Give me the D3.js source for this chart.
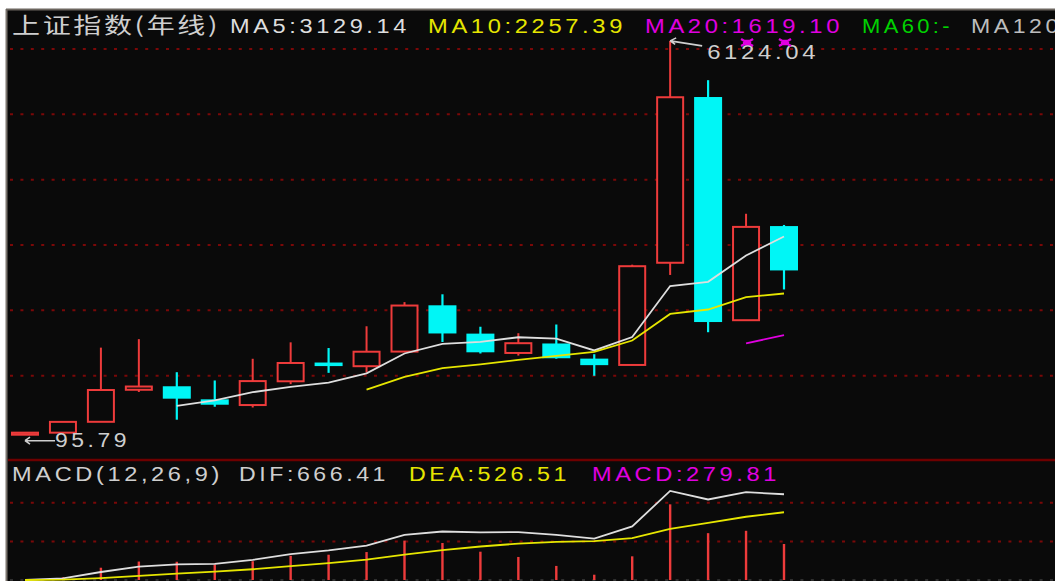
<!DOCTYPE html>
<html>
<head>
<meta charset="utf-8">
<script src="https://cdn.jsdelivr.net/npm/d3@7"></script>
<style>
  html, body { margin: 0; padding: 0; background: #fff; overflow: hidden; }
  svg { display: block; }
</style>
</head>
<body>
<svg id="chart" width="1055" height="581"></svg>
<script>
// Shanghai Composite, yearly candles 1990-2010
const years  = ['1990','1991','1992','1993','1994','1995','1996','1997','1998','1999','2000',
                '2001','2002','2003','2004','2005','2006','2007','2008','2009','2010'];
const opens  = [96.05, 127.61, 293.74, 784.13, 837.70, 637.72, 550.26, 914.06, 1200.95, 1144.88, 1368.69,
                2077.07, 1643.48, 1347.43, 1492.72, 1260.78, 1163.88, 2728.19, 5265.00, 1849.02, 3289.75];
const highs  = [127.61, 292.75, 1429.01, 1558.95, 1052.94, 926.41, 1258.68, 1510.17, 1422.97, 1756.18, 2125.72,
                2245.43, 1748.89, 1649.60, 1783.01, 1328.53, 2698.90, 6124.04, 5522.78, 3478.01, 3306.75];
const lows   = [95.79, 104.96, 292.76, 750.46, 325.89, 524.43, 512.83, 870.18, 1043.02, 1047.83, 1361.21,
                1514.86, 1339.20, 1307.40, 1259.43, 998.23, 1161.91, 2541.53, 1664.93, 1844.09, 2319.74];
const closes = [127.61, 292.75, 780.39, 833.80, 647.87, 555.29, 917.02, 1194.10, 1146.70, 1366.58, 2073.48,
                1645.97, 1357.65, 1497.04, 1266.50, 1161.06, 2675.47, 5261.56, 1820.81, 3277.14, 2610.72];

// Header labels
const titleText  = '上证指数(年线)';
const maLabels   = ['MA5:3129.14', 'MA10:2257.39', 'MA20:1619.10', 'MA60:-', 'MA120:-'];
const macdLabels = ['MACD(12,26,9)', 'DIF:666.41', 'DEA:526.51', 'MACD:279.81'];

// Horizontal reference levels
const priceTicks = [1000, 2000, 3000, 4000, 5000, 6000];
const macdTicks  = [300, 600];
const markerYears = ['2009', '2010'];

const W = 1055, H = 581;
const BG = '#0a0a0a';
const RED = '#ee3b3b', CYAN = '#00f6f6', WHITE = '#dedede', YELLOW = '#e6e600',
      MAGENTA = '#e000e0', GREEN = '#00d200', SILVER = '#cfcfcf', GRID = '#7a0808';
const LATIN = '"Liberation Sans", Arial, sans-serif';
const CJK = '"Noto Sans CJK SC", sans-serif';

const svg = d3.select('#chart');

// frame
svg.append('rect').attr('width', W).attr('height', H).attr('fill', '#ffffff');
svg.append('rect').attr('x', 7).attr('y', 10).attr('width', W - 7).attr('height', H - 10).attr('fill', BG);
svg.append('line').attr('x1', 6.5).attr('x2', 6.5).attr('y1', 9).attr('y2', H)
   .attr('stroke', '#7b756e').attr('stroke-width', 2);
svg.append('line').attr('x1', 6).attr('x2', W).attr('y1', 9.5).attr('y2', 9.5)
   .attr('stroke', '#6b655e').attr('stroke-width', 2);

// scales
const x  = d3.scalePoint().domain(years).range([25, 784]);
const y  = d3.scaleLinear().domain([0, 6000]).range([441, 49]);
const ym = d3.scaleLinear().domain([0, 600]).range([580, 502.8]);

// grid
const grid = svg.append('g');
grid.selectAll('line.p').data(priceTicks).join('line')
  .attr('x1', 10).attr('x2', W).attr('y1', d => y(d)).attr('y2', d => y(d))
  .attr('stroke', GRID).attr('stroke-width', 2).attr('stroke-dasharray', '3 7.4');
grid.selectAll('line.m').data(macdTicks).join('line')
  .attr('x1', 10).attr('x2', W).attr('y1', d => ym(d)).attr('y2', d => ym(d))
  .attr('stroke', GRID).attr('stroke-width', 2).attr('stroke-dasharray', '3 7.4');
grid.append('line').attr('x1', 10).attr('x2', W).attr('y1', ym(0)).attr('y2', ym(0))
  .attr('stroke', '#3c3c3c').attr('stroke-width', 1.5).attr('stroke-dasharray', '3 7.4');

// panel separator
svg.append('line').attr('x1', 8).attr('x2', W).attr('y1', 460).attr('y2', 460)
   .attr('stroke', '#6e0000').attr('stroke-width', 2.5);

// candles
const candles = years.map((yr, i) => ({ yr, o: opens[i], h: highs[i], l: lows[i], c: closes[i] }));
const cg = svg.append('g');
candles.forEach(d => {
  const cx = x(d.yr);
  const up = d.c >= d.o;
  if (up) {
    const top = y(d.c), bot = y(d.o);
    cg.append('line').attr('x1', cx).attr('x2', cx).attr('y1', y(d.h)).attr('y2', top)
      .attr('stroke', RED).attr('stroke-width', 2);
    cg.append('line').attr('x1', cx).attr('x2', cx).attr('y1', bot).attr('y2', y(d.l))
      .attr('stroke', RED).attr('stroke-width', 2);
    cg.append('rect').attr('x', cx - 13).attr('y', top).attr('width', 26)
      .attr('height', Math.max(1, bot - top))
      .attr('fill', BG).attr('stroke', RED).attr('stroke-width', 2);
  } else {
    const top = y(d.o), bot = y(d.c);
    cg.append('line').attr('x1', cx).attr('x2', cx).attr('y1', y(d.h)).attr('y2', y(d.l))
      .attr('stroke', CYAN).attr('stroke-width', 2.2);
    cg.append('rect').attr('x', cx - 14).attr('y', top).attr('width', 28)
      .attr('height', Math.max(1, bot - top)).attr('fill', CYAN);
  }
});

// moving averages
function movingAverage(vals, n) {
  return vals.map((v, i) => i < n - 1 ? null : d3.mean(vals.slice(i - n + 1, i + 1)));
}
const ma5 = movingAverage(closes, 5), ma10 = movingAverage(closes, 10), ma20 = movingAverage(closes, 20);
const line = d3.line().defined(d => d[1] != null).x(d => x(d[0])).y(d => y(d[1]));
[[ma5, WHITE], [ma10, YELLOW], [ma20, MAGENTA]].forEach(([s, col]) => {
  svg.append('path').attr('d', line(years.map((yr, i) => [yr, s[i]])))
    .attr('fill', 'none').attr('stroke', col).attr('stroke-width', 1.8);
});

// MACD(12,26,9)
function ema(vals, n) {
  const a = 2 / (n + 1);
  const out = [];
  vals.forEach((v, i) => out.push(i === 0 ? v : out[i - 1] + a * (v - out[i - 1])));
  return out;
}
const e12 = ema(closes, 12), e26 = ema(closes, 26);
const dif = closes.map((_, i) => e12[i] - e26[i]);
const dea = ema(dif, 9);
const macd = dif.map((v, i) => 2 * (v - dea[i]));

svg.append('g').selectAll('line').data(years).join('line')
  .attr('x1', d => x(d)).attr('x2', d => x(d))
  .attr('y1', ym(0)).attr('y2', (d, i) => ym(macd[i]))
  .attr('stroke', (d, i) => macd[i] >= 0 ? RED : CYAN).attr('stroke-width', 2.4);

const mline = d3.line().x(d => x(d[0])).y(d => ym(d[1]));
svg.append('path').attr('d', mline(years.map((yr, i) => [yr, dif[i]])))
  .attr('fill', 'none').attr('stroke', WHITE).attr('stroke-width', 1.8);
svg.append('path').attr('d', mline(years.map((yr, i) => [yr, dea[i]])))
  .attr('fill', 'none').attr('stroke', YELLOW).attr('stroke-width', 1.8);

// text helper: spaced bitmap-like labels stretched to their span
function label(tx, baseline, str, width, color, family, size) {
  return svg.append('text').attr('x', tx).attr('y', baseline)
    .attr('fill', color).attr('font-family', family || LATIN)
    .attr('font-size', size || 19.5).attr('letter-spacing', 3)
    .attr('textLength', width).attr('lengthAdjust', 'spacingAndGlyphs')
    .text(str);
}

// header row
label(12, 32.5, titleText, 208, SILVER, CJK, 21.5).attr('letter-spacing', 2);
const maX = [230, 428, 645, 862, 971], maW = [180, 198, 198, 91, 112];
const maCol = [WHITE, YELLOW, MAGENTA, GREEN, '#bdbdbd'];
maLabels.forEach((t, i) => label(maX[i], 32.5, t, maW[i], maCol[i]));

// MACD header row
const mX = [12, 239, 409, 592], mW = [211, 150, 161, 188];
const mCol = [SILVER, SILVER, YELLOW, MAGENTA];
macdLabels.forEach((t, i) => label(mX[i], 480.5, t, mW[i], mCol[i]));

// extreme value notes
const iMax = d3.maxIndex(highs), iMin = d3.minIndex(lows);
const hx = x(years[iMax]), hy = y(highs[iMax]);
svg.append('path')
  .attr('d', `M${hx},${hy} L${hx + 32},${hy + 5} M${hx},${hy} L${hx + 6},${hy - 3} M${hx},${hy} L${hx + 5},${hy + 3.5}`)
  .attr('stroke', SILVER).attr('stroke-width', 1.6).attr('fill', 'none');
label(hx + 37, 59.3, highs[iMax].toFixed(2), 112, SILVER);

const lx = x(years[iMin]), ly = 440.7;
svg.append('path')
  .attr('d', `M${lx},${ly} L${lx + 30},${ly} M${lx},${ly} L${lx + 5},${ly - 3.5} M${lx},${ly} L${lx + 5},${ly + 3.5}`)
  .attr('stroke', SILVER).attr('stroke-width', 1.6).attr('fill', 'none');
label(lx + 30, 446.7, lows[iMin].toFixed(2), 75, SILVER);

// small markers at the top of the last two columns
svg.append('g').selectAll('path').data(markerYears).join('path')
  .attr('transform', d => `translate(${x(d) + 1},42.5)`)
  .attr('d', 'M-6,-3.5 L6,3.5 M-6,3.5 L6,-3.5 M-3,-1.5 L3,-1.5 L3,1.5 L-3,1.5 Z')
  .attr('stroke', MAGENTA).attr('stroke-width', 2.4).attr('fill', MAGENTA);
</script>
</body>
</html>
